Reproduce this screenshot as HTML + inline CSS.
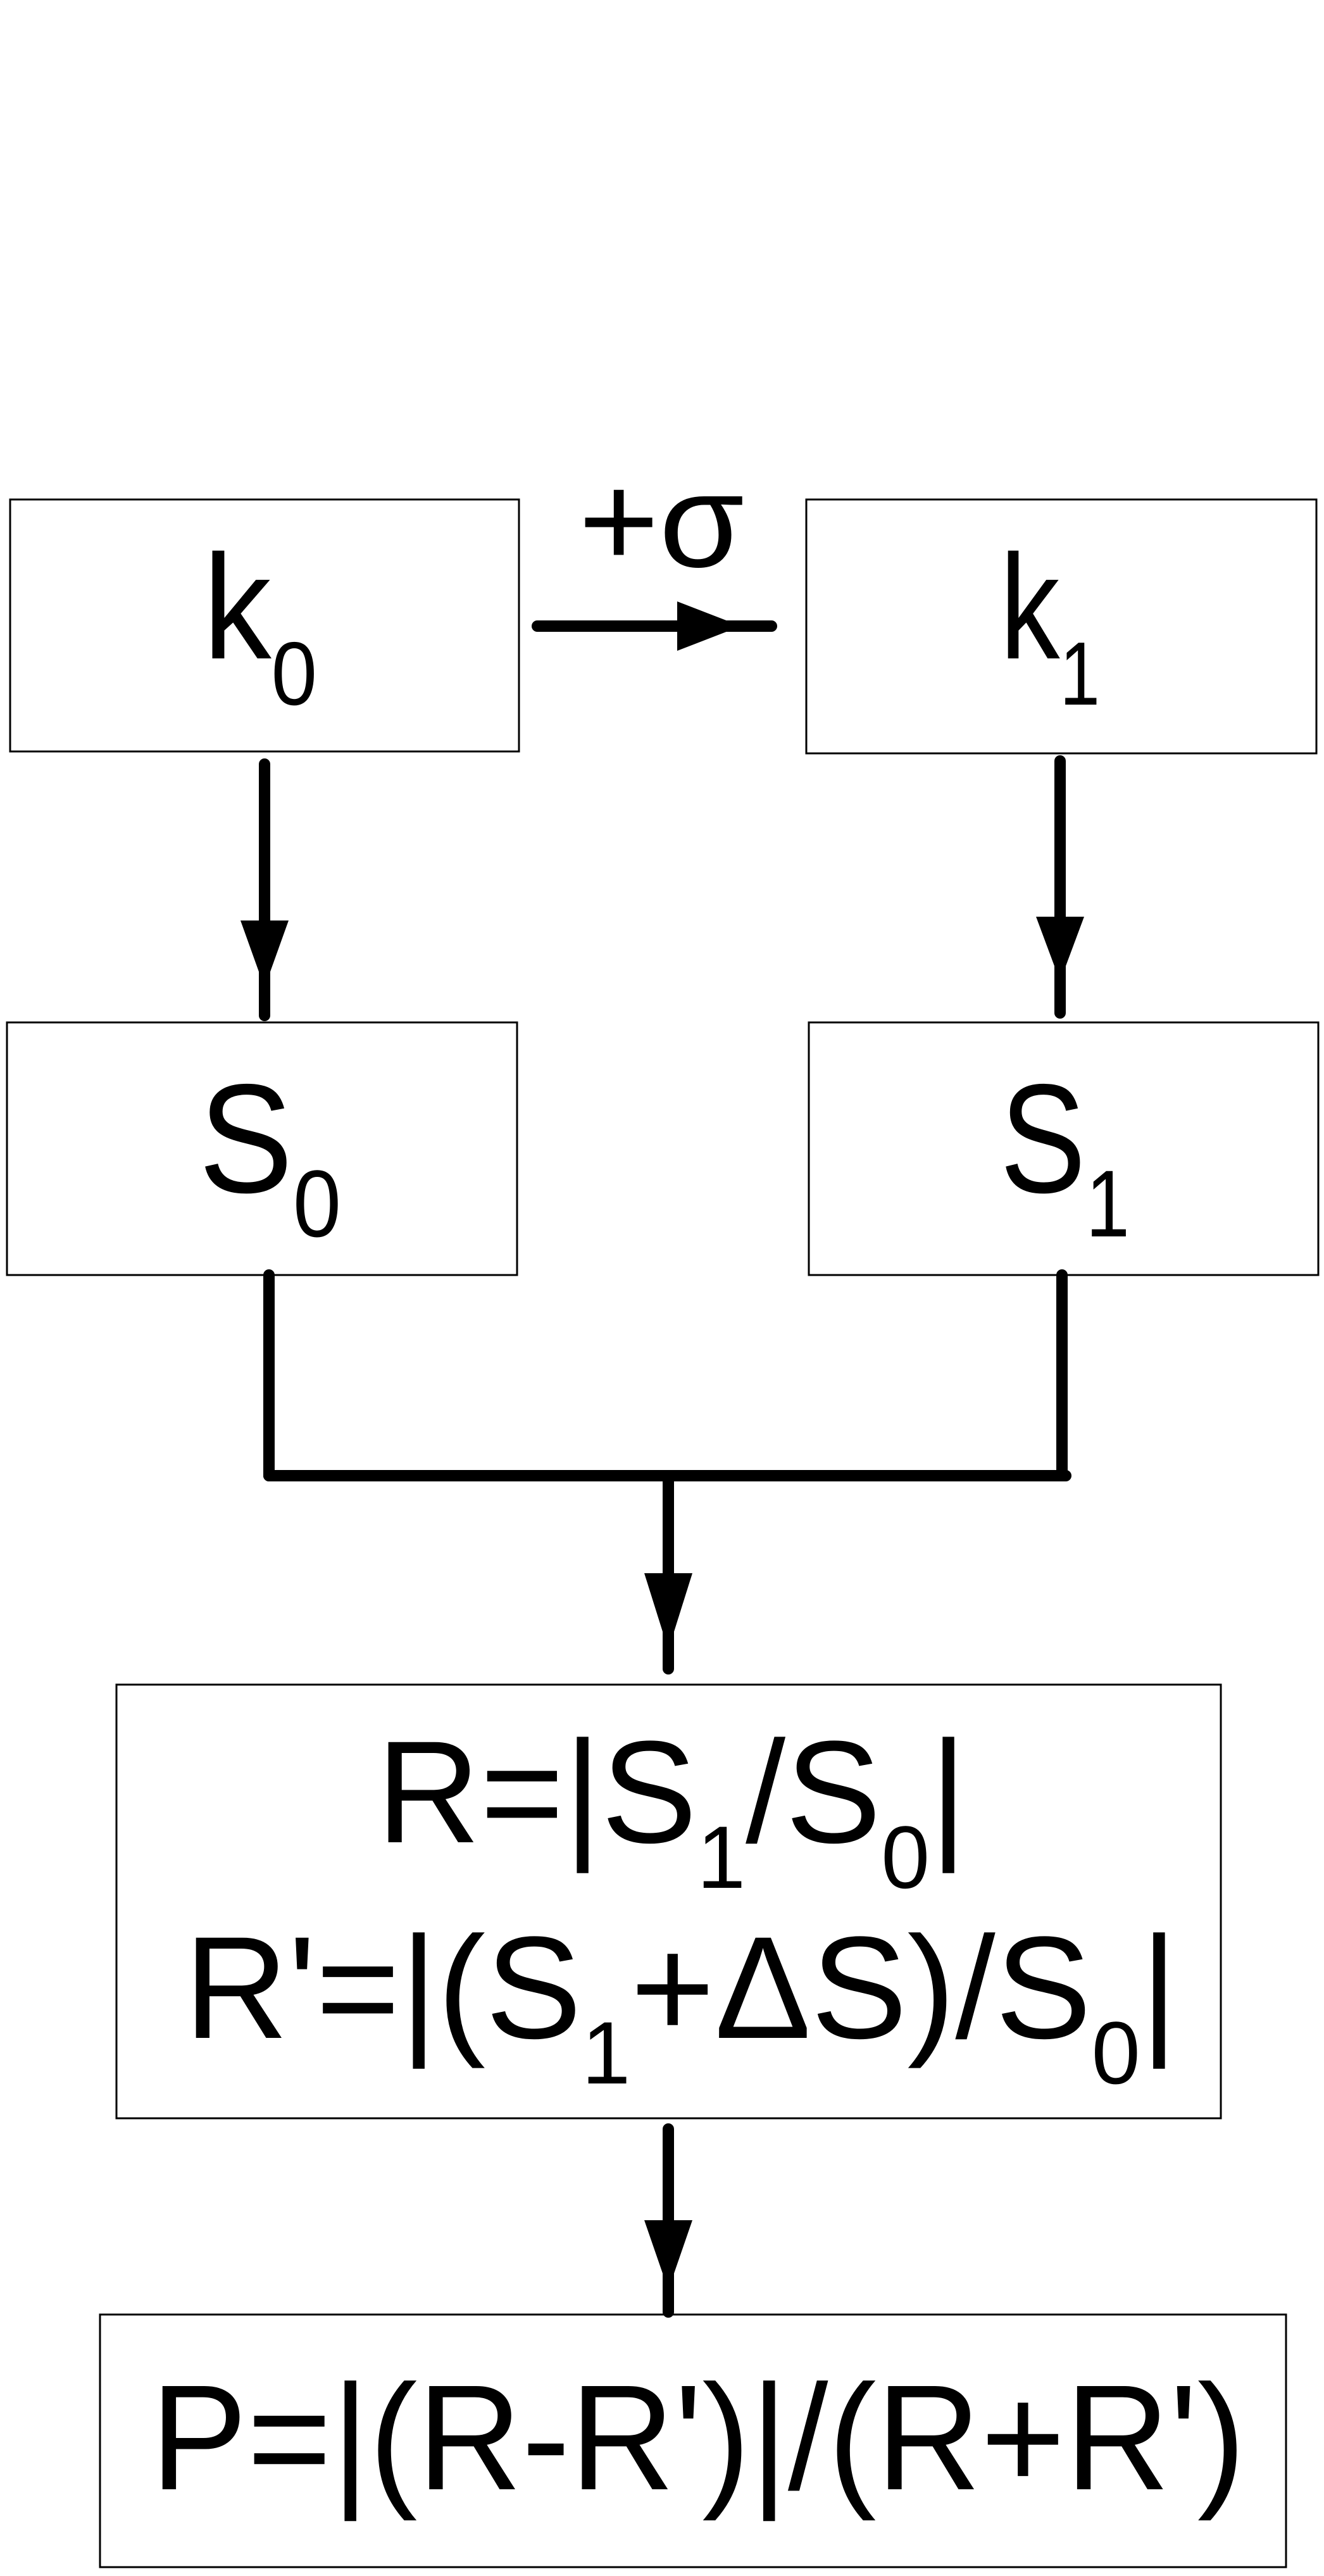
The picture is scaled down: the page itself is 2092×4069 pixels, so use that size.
<!DOCTYPE html>
<html><head><meta charset="utf-8"><style>
html,body{margin:0;padding:0;background:#fff;}
svg{display:block;}
text{font-family:"Liberation Sans",Arial,sans-serif;fill:#000;}
</style></head><body>
<svg width="2092" height="4069" viewBox="0 0 2092 4069" xmlns="http://www.w3.org/2000/svg">
<rect width="2092" height="4069" fill="#fff"/>
<g fill="none" stroke="#000" stroke-width="3">
<rect x="16" y="789" width="804" height="398"/>
<rect x="1274" y="789" width="806" height="401"/>
<rect x="11" y="1615" width="806" height="399"/>
<rect x="1278" y="1615" width="805" height="399"/>
<rect x="184" y="2661" width="1745" height="685"/>
<rect x="158" y="3656" width="1874" height="399"/>
</g>
<g stroke="#000" stroke-width="18" stroke-linecap="round" fill="none">
<line x1="849" y1="989" x2="1219" y2="989"/>
<line x1="418" y1="1207" x2="418" y2="1604"/>
<line x1="1675" y1="1202" x2="1675" y2="1600"/>
<line x1="425" y1="2014" x2="425" y2="2331"/>
<line x1="1678" y1="2014" x2="1678" y2="2331"/>
<line x1="425" y1="2331" x2="1684" y2="2331"/>
<line x1="1056" y1="2331" x2="1056" y2="2636"/>
<line x1="1056" y1="3363" x2="1056" y2="3652"/>
</g>
<g fill="#000">
<polygon points="1070,950 1171,989 1070,1028"/>
<polygon points="380,1454 456,1454 418,1560"/>
<polygon points="1637,1448 1713,1448 1675,1550"/>
<polygon points="1018,2485 1094,2485 1056,2606"/>
<polygon points="1018,3507 1094,3507 1056,3617"/>
</g>
<text x="914" y="895" font-size="210" textLength="262" lengthAdjust="spacingAndGlyphs">+σ</text>
<text x="321" y="1040" font-size="235" textLength="180" lengthAdjust="spacingAndGlyphs">k<tspan font-size="142" dy="73">0</tspan></text>
<text x="1580" y="1040" font-size="235" textLength="158" lengthAdjust="spacingAndGlyphs">k<tspan font-size="142" dy="73">1</tspan></text>
<text x="314" y="1883" font-size="245" textLength="225" lengthAdjust="spacingAndGlyphs">S<tspan font-size="150" dy="70">0</tspan></text>
<text x="1580" y="1883" font-size="245" textLength="205" lengthAdjust="spacingAndGlyphs">S<tspan font-size="150" dy="70">1</tspan></text>
<text x="595" y="2910" font-size="230" textLength="933" lengthAdjust="spacingAndGlyphs">R=|S<tspan font-size="140" dy="72">1</tspan><tspan dy="-72">/S</tspan><tspan font-size="140" dy="72">0</tspan><tspan dy="-72">|</tspan></text>
<text x="291" y="3219" font-size="230" textLength="1570" lengthAdjust="spacingAndGlyphs">R'=|(S<tspan font-size="140" dy="72">1</tspan><tspan dy="-72">+ΔS)/S</tspan><tspan font-size="140" dy="72">0</tspan><tspan dy="-72">|</tspan></text>
<text x="238" y="3932" font-size="237" textLength="1730" lengthAdjust="spacingAndGlyphs">P=|(R-R')|/(R+R')</text>
</svg>
</body></html>
